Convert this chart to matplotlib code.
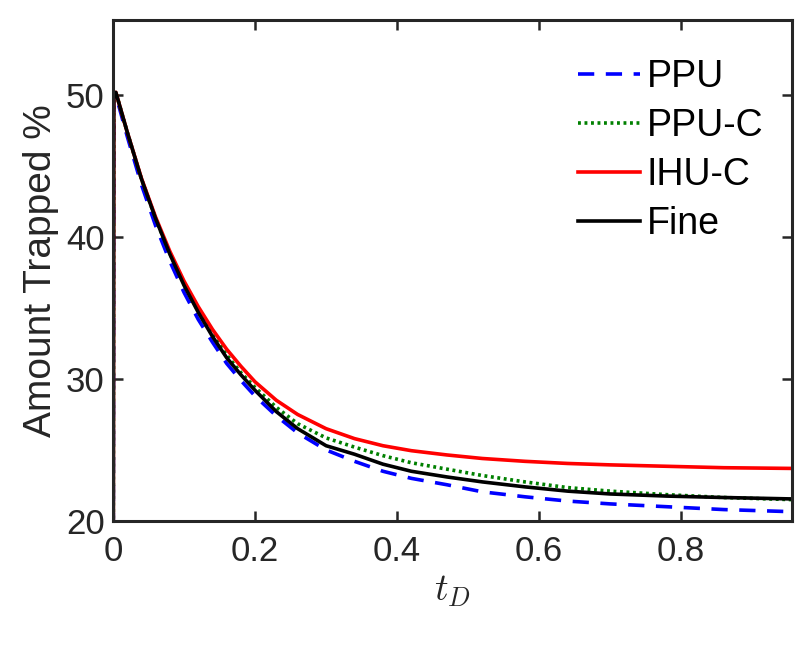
import numpy as np
import matplotlib
matplotlib.use("Agg")
import matplotlib.pyplot as plt

plt.rcParams['font.family'] = ['Liberation Sans', 'DejaVu Sans']
plt.rcParams['mathtext.fontset'] = 'cm'

# time grid (dimensionless t_D) and amount trapped (%)
t_D = [0, 0.001, 0.004, 0.02, 0.04, 0.06, 0.08, 0.10, 0.12, 0.14, 0.16, 0.18,
       0.20, 0.23, 0.26, 0.30, 0.34, 0.38, 0.42, 0.47, 0.52, 0.58, 0.64,
       0.70, 0.78, 0.86, 0.956]

ppu = [0, 49.8, 50.0, 47.1, 43.7, 40.8, 38.3, 36.1, 34.2, 32.6, 31.1, 29.9,
       28.8, 27.4, 26.2, 25.0, 24.2, 23.5, 23.0, 22.55, 22.05, 21.7, 21.4,
       21.2, 21.0, 20.8, 20.65]
ppu_c = [0, 50.0, 50.2, 47.4, 44.1, 41.3, 38.85, 36.7, 34.8, 33.15, 31.7,
         30.45, 29.4, 28.0, 26.85, 25.85, 25.2, 24.6, 24.1, 23.65, 23.2, 22.75,
         22.35, 22.1, 21.85, 21.65, 21.5]
ihu_c = [0, 50.0, 50.2, 47.4, 44.15, 41.4, 39.0, 36.9, 35.1, 33.5, 32.1,
         30.9, 29.8, 28.5, 27.5, 26.5, 25.8, 25.3, 24.95, 24.65, 24.4, 24.2,
         24.05, 23.95, 23.85, 23.75, 23.7]
fine = [0, 50.0, 50.2, 47.4, 44.1, 41.3, 38.8, 36.6, 34.7, 33.0, 31.5, 30.3,
        29.2, 27.7, 26.5, 25.3, 24.7, 24.0, 23.5, 23.1, 22.75, 22.4, 22.1,
        21.9, 21.75, 21.65, 21.55]

fig = plt.figure(figsize=(8.05, 6.67), dpi=100)
ax = fig.add_axes([0.1404, 0.219, 0.8435, 0.751])

lw = 2.6
ax.plot(t_D, ppu, color='#0000FF', lw=lw, linestyle=(0, (4.5, 3.2)), label='PPU')
ax.plot(t_D, ppu_c, color='#008000', lw=lw, linestyle=(0, (0.8, 1.0)), label='PPU-C')
ax.plot(t_D, ihu_c, color='#FF0000', lw=lw, label='IHU-C')
ax.plot(t_D, fine, color='black', lw=lw, label='Fine')

ax.set_xlim(0, 0.956)
ax.set_ylim(20, 55.3)
ax.set_xticks([0, 0.2, 0.4, 0.6, 0.8])
ax.set_xticklabels(['0', '0.2', '0.4', '0.6', '0.8'])
ax.set_yticks([20, 30, 40, 50])

ax.tick_params(direction='in', length=7, width=1.8, labelsize=25,
               colors='#262626', top=True, right=True)
ax.tick_params(axis='x', pad=10)
ax.tick_params(axis='y', pad=6)
for s in ax.spines.values():
    s.set_linewidth(2.2)
    s.set_color('#262626')

ax.set_xlabel(r'$t_D$', fontsize=27, color='#262626', labelpad=4)
ax.set_ylabel('Amount Trapped %', fontsize=28, color='#262626', labelpad=5)

leg = ax.legend(loc='upper right', bbox_to_anchor=(0.988, 0.964),
                frameon=False, fontsize=27,
                handlelength=1.65, handletextpad=0.18, labelspacing=0.35,
                borderaxespad=0.25, borderpad=0.3)

fig.savefig('out.png', dpi=100)
